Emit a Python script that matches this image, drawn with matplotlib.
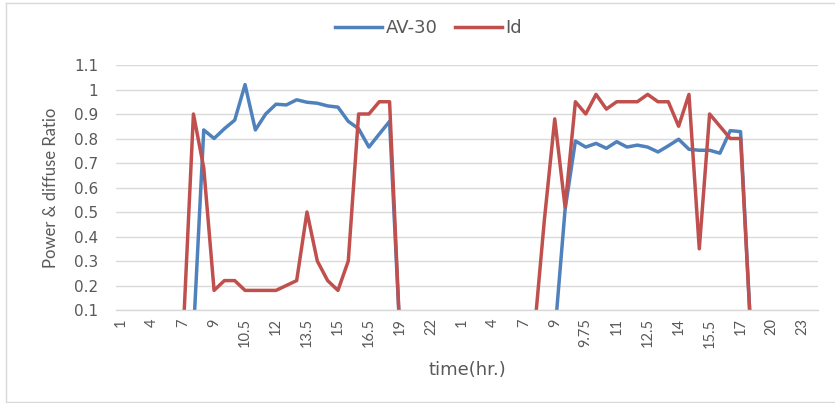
import matplotlib
matplotlib.use("Agg")
import matplotlib.pyplot as plt
from matplotlib.lines import Line2D

# Hour of each sample (two consecutive days)
hours = [1, 2, 3, 4, 5, 6, 7, 8, 8.5, 9, 9.5, 10, 10.5, 11, 11.5, 12, 12.5, 13,
         13.5, 14, 14.5, 15, 15.5, 16, 16.5, 17, 18, 19, 20, 21, 22, 23, 24,
         1, 2, 3, 4, 5, 6, 7, 8, 8.5, 9, 9.25, 9.5, 9.75, 10, 10.5, 11, 11.5,
         12, 12.5, 13, 13.5, 14, 14.5, 15, 15.5, 16, 16.5, 17, 18, 19, 20, 21,
         22, 23, 24]

av30 = [0, 0, 0, 0, 0, 0, 0, 0, 0.835, 0.80, 0.84, 0.875, 1.02, 0.835, 0.90,
        0.94, 0.937, 0.958, 0.948, 0.944, 0.933, 0.928, 0.87, 0.84, 0.765,
        0.818, 0.87, 0, 0, 0, 0, 0, 0, 0, 0, 0, 0, 0, 0, 0, 0, 0, 0, 0.51,
        0.79, 0.765, 0.78, 0.76, 0.787, 0.765, 0.773, 0.765, 0.745, 0.77,
        0.797, 0.756, 0.752, 0.752, 0.74, 0.832, 0.828, 0, 0, 0, 0, 0, 0, 0]

diffuse = [0, 0, 0, 0, 0, 0, 0, 0.9, 0.68, 0.18, 0.22, 0.22, 0.18, 0.18, 0.18,
           0.18, 0.2, 0.22, 0.5, 0.3, 0.22, 0.18, 0.3, 0.9, 0.9, 0.95, 0.95,
           0, 0, 0, 0, 0, 0, 0, 0, 0, 0, 0, 0, 0, 0, 0.47, 0.88, 0.52, 0.95,
           0.9, 0.98, 0.92, 0.95, 0.95, 0.95, 0.98, 0.95, 0.95, 0.85, 0.98,
           0.35, 0.9, 0.85, 0.8, 0.8, 0, 0, 0, 0, 0, 0, 0]

y_ticks = [0.1, 0.2, 0.3, 0.4, 0.5, 0.6, 0.7, 0.8, 0.9, 1.0, 1.1]

BLUE = "#4F81BD"
RED = "#C0504D"
GRID = "#D9D9D9"
TXT = "#595959"
WIDE = ["DejaVu Sans"]
NARROW = ["Lato", "DejaVu Sans"]

plt.rcParams["font.family"] = NARROW

fig = plt.figure(figsize=(8.35, 4.03), dpi=100)
ax = fig.add_axes([116 / 835, 1 - 310 / 403, (818 - 116) / 835, (310 - 65) / 403])

x = list(range(len(hours)))
ax.plot(x, av30, color=BLUE, lw=2.5, solid_joinstyle="round", label="AV-30")
ax.plot(x, diffuse, color=RED, lw=2.5, solid_joinstyle="round", label="Id")

ax.set_xlim(-0.5, len(hours) - 0.5)
ax.set_ylim(0.1, 1.1)

ax.set_yticks(y_ticks)
ax.set_yticklabels([f"{v:g}" for v in y_ticks], family=WIDE, fontsize=11)
ax.yaxis.grid(True, color=GRID, lw=1)
ax.set_axisbelow(True)

ax.set_xticks(x[::3])
ax.set_xticklabels([f"{h:g}" for h in hours[::3]], rotation=90,
                   family=NARROW, fontsize=10.5)

for s in ("top", "right", "left"):
    ax.spines[s].set_visible(False)
ax.spines["bottom"].set_color(GRID)
ax.spines["bottom"].set_linewidth(1)

ax.tick_params(axis="y", length=0, pad=13, labelcolor=TXT)
ax.tick_params(axis="x", length=0, pad=6, labelcolor=TXT)

ax.set_ylabel("Power & diffuse Ratio", fontsize=12, color=TXT)
ax.yaxis.set_label_coords(-0.081, 0.5)
ax.set_xlabel("time(hr.)", fontsize=13, color=TXT, family=WIDE)
ax.xaxis.set_label_coords(0.501, -0.208)

handles = [Line2D([], [], color=BLUE, lw=2.5), Line2D([], [], color=RED, lw=2.5)]
fig.legend(handles, ["AV-30", "Id"], loc="center", bbox_to_anchor=(0.513, 1 - 28 / 403),
           ncol=2, frameon=False, labelcolor=TXT,
           prop={"family": WIDE, "size": 13},
           handlelength=2.6, handletextpad=0.22, columnspacing=0.95)

# chart-area frame
fig.add_artist(Line2D([6 / 835, 6 / 835], [1 - 402 / 403, 1 - 3 / 403],
                      transform=fig.transFigure, color=GRID, lw=1))
fig.add_artist(Line2D([6 / 835, 1], [1 - 3 / 403, 1 - 3 / 403],
                      transform=fig.transFigure, color=GRID, lw=1))
fig.add_artist(Line2D([6 / 835, 1], [1 - 401.5 / 403, 1 - 401.5 / 403],
                      transform=fig.transFigure, color=GRID, lw=1))

fig.savefig("out.png", dpi=100)
